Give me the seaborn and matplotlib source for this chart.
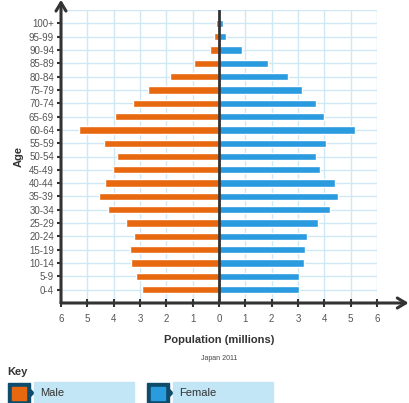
import numpy as np
import pandas as pd
import seaborn as sns
import matplotlib.pyplot as plt
from matplotlib.patches import Rectangle, Polygon

### Data (millions), top row first
ages = ['100+', '95-99', '90-94', '85-89', '80-84', '75-79', '70-74', '65-69',
        '60-64', '55-59', '50-54', '45-49', '40-44', '35-39', '30-34', '25-29',
        '20-24', '15-19', '10-14', '5-9', '0-4']
male = [0.1, 0.2, 0.33, 0.95, 1.87, 2.7, 3.27, 3.96, 5.33, 4.37, 3.87, 4.02,
        4.32, 4.55, 4.21, 3.52, 3.22, 3.38, 3.35, 3.14, 2.92]
female = [0.14, 0.28, 0.86, 1.86, 2.63, 3.15, 3.7, 3.99, 5.17, 4.06, 3.7, 3.85,
          4.41, 4.52, 4.22, 3.75, 3.33, 3.27, 3.22, 3.03, 3.03]
xticks = list(range(-6, 7))

df = pd.DataFrame({'Age': ages, 'Male': [-v for v in male], 'Female': female})

orange = '#e8680f'
blue = '#2b9be0'
grid_col = '#cfe8f4'
dark = '#333333'

sns.set_theme(style="white")
plt.rcParams['font.family'] = ['Liberation Sans', 'DejaVu Sans']

W, H = 410, 403
fig = plt.figure(figsize=(W / 100, H / 100), dpi=100)
# axes box in pixels: x 61..377, y 10..303
ax = fig.add_axes([61 / W, 1 - 303 / H, 316 / W, 293 / H])

sns.barplot(data=df, x='Male', y='Age', orient='h', color=orange, width=0.55,
            saturation=1, ax=ax, zorder=2)
sns.barplot(data=df, x='Female', y='Age', orient='h', color=blue, width=0.55,
            saturation=1, ax=ax, zorder=2)

ax.set_xlim(-6, 6)
ax.set_ylim(21, -1)

# grid lines (major ticks plus one extra row above and below)
ax.set_xticks(xticks)
ax.set_yticks(range(len(ages)))
ax.set_yticks([-1, len(ages)], minor=True)
ax.grid(True, which='both', color=grid_col, lw=1, zorder=0)
ax.set_axisbelow(True)

ax.set_xticklabels([str(abs(t)) for t in xticks], fontsize=7, color='#555555')
ax.set_yticklabels(ages, fontsize=7, color='#555555')
ax.tick_params(axis='x', which='major', direction='inout', length=6, width=1.5,
               color=dark, bottom=True, pad=5)
ax.tick_params(axis='y', which='major', direction='out', length=3, width=1.5,
               color=dark, left=True, pad=2)
ax.tick_params(which='minor', length=0)

for s in ax.spines.values():
    s.set_visible(False)

# zero line
ax.axvline(0, color=dark, lw=2, zorder=3)

# axis lines with arrow heads
ax.annotate('', xy=(0, 1.035), xytext=(0, 0), xycoords='axes fraction',
            arrowprops=dict(arrowstyle='->,head_length=0.5,head_width=0.3',
                            color=dark, lw=2.2, shrinkA=0, shrinkB=0),
            annotation_clip=False)
ax.annotate('', xy=(1.1, 0), xytext=(0, 0), xycoords='axes fraction',
            arrowprops=dict(arrowstyle='->,head_length=0.5,head_width=0.3',
                            color=dark, lw=2.2, shrinkA=0, shrinkB=0),
            annotation_clip=False)

ax.set_xlabel('Population (millions)', fontsize=8, fontweight='bold',
              color=dark, labelpad=8)
ax.set_ylabel('Age', fontsize=8, fontweight='bold', color=dark, labelpad=4)

def fx(px):
    return px / W

def fy(py):
    return 1 - py / H

fig.text(fx(219), fy(358), 'Japan 2011', fontsize=5, color='#444444',
         ha='center', va='center')

### Key
fig.text(fx(7), fy(372), 'Key', fontsize=8, fontweight='bold', color=dark,
         va='center')
border = '#0f4c6b'
for x0, col, lab, rw in [(8, orange, 'Male', 100), (147, blue, 'Female', 100)]:
    fig.patches.append(Rectangle((fx(x0), fy(404)), fx(22), 21 / H,
                                 transform=fig.transFigure, color=border))
    fig.patches.append(Rectangle((fx(x0 + 4), fy(400)), fx(14), 13 / H,
                                 transform=fig.transFigure, color=col))
    fig.patches.append(Polygon([(fx(x0 + 22), fy(389)), (fx(x0 + 26), fy(393)),
                                (fx(x0 + 22), fy(397))],
                               transform=fig.transFigure, color=border))
    fig.patches.append(Rectangle((fx(x0 + 26), fy(404)), fx(rw), 22 / H,
                                 transform=fig.transFigure, color='#c2e6f5'))
    fig.text(fx(x0 + 32), fy(393), lab, fontsize=8, color=dark, va='center')

fig.savefig('out.png', dpi=100)
